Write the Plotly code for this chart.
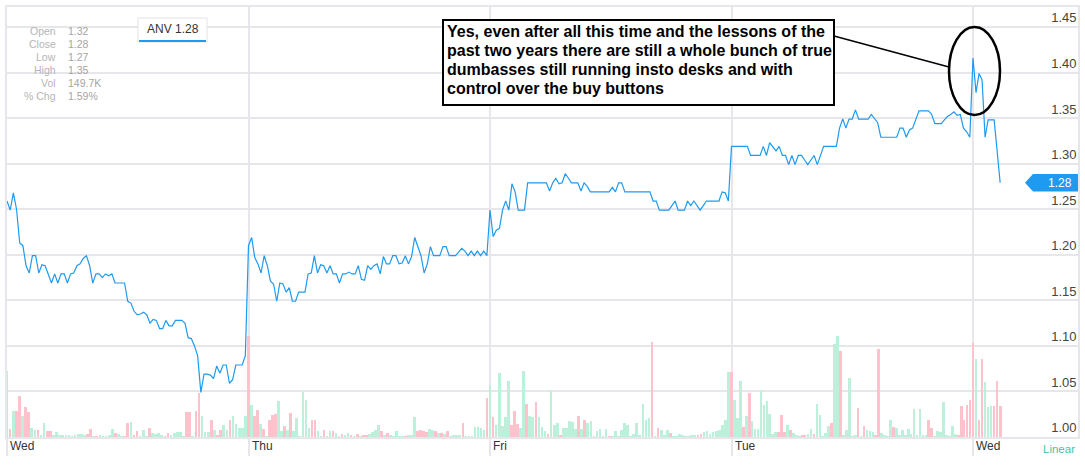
import plotly.graph_objects as go

# ---------------- data ----------------
day_labels = ["Wed", "Thu", "Fri", "Tue", "Wed"]
symbol = "ANV"

price_wed1 = [1.259, 1.249, 1.268, 1.250, 1.213, 1.210, 1.188, 1.180, 1.199, 1.199,
              1.180, 1.189, 1.188, 1.179, 1.169, 1.179, 1.169, 1.179, 1.179, 1.169,
              1.179, 1.180, 1.188, 1.190, 1.196, 1.199, 1.188, 1.169, 1.179, 1.179,
              1.175, 1.179, 1.177, 1.179, 1.169, 1.169, 1.169, 1.169, 1.149, 1.147,
              1.138, 1.134, 1.135, 1.137, 1.134, 1.125, 1.129, 1.128, 1.119, 1.119,
              1.128, 1.122, 1.122, 1.128, 1.128, 1.128, 1.125, 1.109, 1.108, 1.100,
              1.089, 1.049, 1.069, 1.069, 1.068, 1.064, 1.078, 1.070, 1.079, 1.079,
              1.059, 1.063, 1.079, 1.079, 1.079, 1.089]
price_thu = [1.210, 1.219, 1.197, 1.190, 1.180, 1.199, 1.188, 1.171, 1.168, 1.149,
             1.169, 1.168, 1.159, 1.164, 1.149, 1.149, 1.159, 1.159, 1.159, 1.179,
             1.180, 1.199, 1.180, 1.189, 1.188, 1.180, 1.188, 1.179, 1.179, 1.169,
             1.179, 1.179, 1.181, 1.179, 1.179, 1.188, 1.173, 1.172, 1.188, 1.184,
             1.188, 1.190, 1.179, 1.198, 1.190, 1.190, 1.199, 1.199, 1.190, 1.191,
             1.199, 1.190, 1.198, 1.219, 1.210, 1.199, 1.180, 1.190, 1.209, 1.199,
             1.199, 1.199, 1.209, 1.209, 1.199, 1.199, 1.199, 1.203, 1.207, 1.204,
             1.199, 1.204, 1.199, 1.204, 1.199, 1.204, 1.199]
price_fri = [1.249, 1.220, 1.227, 1.229, 1.249, 1.259, 1.249, 1.278, 1.269, 1.249,
             1.249, 1.249, 1.279, 1.279, 1.279, 1.279, 1.279, 1.279, 1.279, 1.270,
             1.279, 1.284, 1.278, 1.279, 1.289, 1.284, 1.279, 1.279, 1.279, 1.270,
             1.279, 1.275, 1.269, 1.269, 1.269, 1.269, 1.269, 1.269, 1.269, 1.274,
             1.269, 1.279, 1.279, 1.269, 1.269, 1.269, 1.269, 1.269, 1.269, 1.269,
             1.269, 1.269, 1.259, 1.259, 1.249, 1.249, 1.249, 1.249, 1.254, 1.259,
             1.249, 1.249, 1.249, 1.259, 1.254, 1.259, 1.254, 1.249, 1.254, 1.259,
             1.259, 1.259, 1.259, 1.259, 1.269, 1.268, 1.259]
price_tue = [1.319, 1.319, 1.319, 1.319, 1.319, 1.319, 1.309, 1.309, 1.309, 1.309,
             1.319, 1.309, 1.323, 1.319, 1.314, 1.319, 1.309, 1.309, 1.299, 1.309,
             1.299, 1.309, 1.309, 1.304, 1.299, 1.304, 1.309, 1.299, 1.309, 1.319,
             1.319, 1.319, 1.319, 1.319, 1.339, 1.349, 1.339, 1.349, 1.349, 1.359,
             1.349, 1.349, 1.349, 1.349, 1.354, 1.349, 1.345, 1.329, 1.329, 1.329,
             1.329, 1.329, 1.329, 1.339, 1.339, 1.329, 1.337, 1.339, 1.348, 1.358,
             1.358, 1.358, 1.358, 1.354, 1.344, 1.344, 1.344, 1.348, 1.352, 1.354,
             1.357, 1.353, 1.354, 1.339, 1.335, 1.329]
price_wed2 = [1.416, 1.378, 1.399, 1.392, 1.329, 1.348, 1.348, 1.348, 1.279]
wed2_line_slots = [0, 1, 2, 3, 4, 5, 6, 7, 9]
slots_per_day = 80

vol_wed1 = [65.7, 8.3, 25.7, 26.3, 40.7, 21.3, 29.7, 24.7, 9, 7.3, 6.7, 1.3, 13.7, 5.7, 6,
            1.3, 5, 2, 1.7, 1.3, 1.3, 0.7, 2.3, 3.3, 3, 1.3, 3.3, 7.7, 0.7, 0.7, 1.3, 0.7,
            0.7, 1.3, 7.7, 4, 3.3, 0.7, 0.7, 14, 15, 1.7, 5.7, 0.7, 6.7, 0.7, 9.3, 4.3, 3,
            4, 1.3, 0.7, 3.7, 1.3, 4, 5.3, 5.3, 0.7, 25, 24.7, 0.7, 26.3, 44, 20.7, 4.7,
            5.3, 17.3, 6.7, 1.3, 6.7, 12.3, 7.3, 16.7, 20.7, 13.3, 9, 9, 21.3]
dir_wed1 = "gpgppgppgg" "pggppggggg" "ggggggppgp" "gggggpggpp" "gppgggpggg" "gppgggggpp" "gppgggpgpp" "ggpggggg"
vol_thu = [101.3, 32.3, 21.3, 27.3, 13, 8.3, 0.7, 17.3, 22.3, 22.7, 35.7, 5.7, 10.7, 7.3, 24,
           5.7, 19, 0.7, 45.3, 37.3, 9, 17.3, 17.3, 5.7, 0.7, 7.3, 0.7, 5.7, 5.7, 4, 0.7, 3.3,
           1.3, 4, 1.3, 0.7, 2.7, 0.7, 1.3, 1.3, 3.3, 4.7, 7.3, 12, 6.3, 2, 4, 2, 0.7, 6.3,
           0.7, 0.7, 0.7, 1.3, 1.3, 20, 5.7, 6.7, 6, 4.7, 8, 6.7, 6, 4, 4, 2.7, 6, 0.7, 1.3,
           1.3, 1.3, 14, 0.7, 0.7, 0.7, 9.7, 10, 8.7, 7.3, 39]
dir_thu = "pgppgpgppp" "ggpgpggggg" "gppggpggpg" "gpggpgpgpp" "ggggpgpggg" "ggpgggpppp" "ggpgpgpggg" "gpgggggggp"
vol_fri = [51, 20, 12, 64, 11.3, 20, 55.7, 12.3, 26.3, 13.3, 8.7, 66.3, 33.3, 21.3, 20, 35, 20,
           9.7, 5.7, 3.3, 45.7, 12.3, 14, 2, 9.3, 9.3, 15.7, 14.7, 8.3, 21.3, 8, 17.3, 14, 16,
           0.5, 5.7, 8.3, 0.5, 8.3, 0.5, 0.5, 6.3, 0.5, 6.7, 13.7, 12.3, 0.5, 3, 13.7, 1.3,
           33.3, 17.3, 18.7, 94.7, 0.5, 8.7, 7.3, 2.3, 7.3, 4, 0.5, 0.7, 3.3, 1.3, 0.7, 0.7,
           2, 1.3, 2, 3.3, 5, 6, 3.3, 4.7, 5.7, 7.3, 12.3, 16.7, 65.3]
dir_fri = "gpgggggppp" "ggpggpgggp" "gggpgggggp" "gpgggggggp" "gggggggggg" "gggpgpgggp" "ggggggggpp" "ggggggggg"
vol_tue = [64.7, 36.7, 19.3, 55.7, 9.7, 21, 44, 15.7, 8.3, 8.3, 45.7, 32.3, 36.3, 23, 3.3, 4.7,
           5.3, 22, 4.7, 12.3, 6.7, 4, 2, 0.7, 1.3, 2.3, 3.3, 8, 3.3, 33.3, 21.7, 0.7, 4, 11.3,
           14, 93.3, 100.7, 85.7, 2, 6.7, 58.7, 0.5, 1.3, 29, 0.7, 11.3, 6.7, 5.7, 5.3, 2.3,
           88.3, 4, 1.3, 0.7, 16.7, 9.7, 9.3, 2.3, 7.3, 2.3, 8, 3.3, 28, 1.3, 28, 1.3, 1.3,
           17.3, 9.3, 0.5, 5.7, 5.3, 34.7, 1.3, 0.7, 11.3, 3.3, 2.3, 31.3, 17.3, 32.3, 36.7]
dir_tue = "pgggpgpggg" "ggggggpppg" "pgggppggpg" "ggggpggpgg" "gggpgpgggp" "pggggpgggg" "gggggggppg" "gggggggppp" "pp"
vol_wed2 = [94, 78, 17.3, 78.3, 54.7, 29.7, 31.3, 31.3, 55.7, 31.3]
dir_wed2 = "pgppgggppp"

price_ticks = [1.00, 1.05, 1.10, 1.15, 1.20, 1.25, 1.30, 1.35, 1.40, 1.45]
info_labels = ["Open", "Close", "Low", "High", "Vol", "% Chg"]
info_values = ["1.32", "1.28", "1.27", "1.35", "149.7K", "1.59%"]
note_lines = [
    "Yes, even after all this time and the lessons of the",
    "past two years there are still a whole bunch of true",
    "dumbasses still running insto desks and with",
    "control over the buy buttons",
]

# ---------------- geometry helpers (pixel layout of the page) ----------------
W, H = 1085, 470
ML, MR, MT, MB = 7, 7, 7, 33
PW, PH = W - ML - MR, H - MT - MB


def px(xp):
    return (xp - ML) / PW


def py(yp):
    return (H - MB - yp) / PH


LINE_BLUE = "#1e9bf0"
GRID = "#e6e6eb"
UP = "#bdf0da"
DOWN = "#fec2cc"

# ---------------- build traces ----------------
full_days = [price_wed1, price_thu, price_fri, price_tue]
lx, ly = [], []
for d, vals in enumerate(full_days):
    n = len(vals)
    lx += [d + i / n for i in range(n)]
    ly += vals
lx += [4 + s / slots_per_day for s in wed2_line_slots]
ly += price_wed2

vol_days = [(vol_wed1, dir_wed1), (vol_thu, dir_thu), (vol_fri, dir_fri), (vol_tue, dir_tue)]
bx, bv, bc = [], [], []
for d, (vals, dirs) in enumerate(vol_days):
    n = len(vals)
    bx += [d + i / n for i in range(n)]
    bv += vals
    bc += [UP if c == "g" else DOWN for c in dirs]
bx += [4 + i / slots_per_day for i in range(len(vol_wed2))]
bv += vol_wed2
bc += [UP if c == "g" else DOWN for c in dir_wed2]

fig = go.Figure()
fig.add_trace(go.Bar(x=bx, y=bv, width=0.88 / slots_per_day, marker=dict(color=bc, line=dict(width=0)),
                     yaxis="y", xaxis="x", showlegend=False, hoverinfo="skip"))
fig.add_trace(go.Scatter(x=lx, y=ly, mode="lines", line=dict(color=LINE_BLUE, width=1.2),
                         yaxis="y2", xaxis="x", showlegend=False, name=symbol))

last = ly[-1]
x_max = (W - MR - ML) / 241.5

fig.update_layout(
    width=W, height=H,
    margin=dict(l=ML, r=MR, t=MT, b=MB, autoexpand=False),
    paper_bgcolor="white", plot_bgcolor="white",
    font=dict(family="Liberation Sans, Arial, sans-serif", color="#444"),
    bargap=0,
    xaxis=dict(range=[0, x_max], tickvals=list(range(len(day_labels))), showticklabels=False,
               ticks="outside", ticklen=17, tickwidth=2, tickcolor=GRID,
               showgrid=True, gridcolor=GRID, gridwidth=2, zeroline=False,
               showline=True, linecolor=GRID, linewidth=2, mirror=True, fixedrange=True),
    yaxis=dict(range=[0, PH], visible=False, fixedrange=True),
    yaxis2=dict(range=[1.0, 1.0 + PH / 911.1], overlaying="y", side="right",
                tickvals=price_ticks, ticktext=[f"{v:.2f}" for v in price_ticks],
                ticklabelposition="inside top", ticks="", tickfont=dict(size=13, color="#444"),
                showgrid=True, gridcolor=GRID, gridwidth=2, zeroline=False,
                showline=True, linecolor=GRID, linewidth=2, mirror=True, fixedrange=True),
)

shapes = []
annotations = []

# day labels under the axis
for d, lab in enumerate(day_labels):
    annotations.append(dict(x=d, xref="x", y=py(446), yref="paper", text=lab, showarrow=False,
                            xanchor="left", yanchor="middle", xshift=1,
                            font=dict(size=12, color="#333")))
annotations.append(dict(x=px(1077), xref="paper", y=py(449), yref="paper", text="Linear",
                        showarrow=False, xanchor="right", yanchor="middle",
                        font=dict(size=11.5, color="#3ec6a8")))

# info panel
for i, (lab, val) in enumerate(zip(info_labels, info_values)):
    yy = py(31 + 13 * i)
    annotations.append(dict(x=px(58), xref="paper", y=yy, yref="paper", text=lab, showarrow=False,
                            xanchor="right", yanchor="middle", font=dict(size=10.5, color="#b5b5b5")))
    annotations.append(dict(x=px(66), xref="paper", y=yy, yref="paper", text=val, showarrow=False,
                            xanchor="left", yanchor="middle", font=dict(size=10.5, color="#a5a5a5")))

# legend chip
shapes.append(dict(type="rect", xref="paper", yref="paper", x0=px(138), x1=px(207), y0=py(42), y1=py(18),
                   line=dict(color="#e3e3e3", width=1), fillcolor="white", layer="above"))
shapes.append(dict(type="rect", xref="paper", yref="paper", x0=px(139), x1=px(206), y0=py(42), y1=py(40),
                   line=dict(width=0), fillcolor=LINE_BLUE, layer="above"))
annotations.append(dict(x=px(172.5), xref="paper", y=py(28.5), yref="paper", text=f"{symbol} {last:.2f}",
                        showarrow=False, xanchor="center", yanchor="middle",
                        font=dict(size=12, color="#333")))

# last price tag
h = 8.7 / 911.1
shapes.append(dict(type="path", xref="paper", yref="y2",
                   path=(f"M {px(1025)} {last} L {px(1033)} {last + h} L 1 {last + h} "
                         f"L 1 {last - h} L {px(1033)} {last - h} Z"),
                   fillcolor=LINE_BLUE, line=dict(width=0), layer="above"))
annotations.append(dict(x=px(1074), xref="paper", y=last, yref="y2", text=f"{last:.2f}", showarrow=False,
                        xanchor="right", yanchor="middle", font=dict(size=12, color="white")))

# hand-drawn note
shapes.append(dict(type="rect", xref="paper", yref="paper", x0=px(443), x1=px(834), y0=py(105), y1=py(20),
                   line=dict(color="black", width=2), fillcolor="white", layer="above"))
for i, t in enumerate(note_lines):
    annotations.append(dict(x=px(445), xref="paper", y=py(31.5 + 19 * i), yref="paper", text=t,
                            showarrow=False, xanchor="left", yanchor="middle",
                            font=dict(size=16, color="black", weight="bold",
                                      family="Liberation Sans, Arial, sans-serif")))
shapes.append(dict(type="line", xref="paper", yref="paper", x0=px(834), y0=py(36), x1=px(949), y1=py(67),
                   line=dict(color="black", width=1.5), layer="above"))
shapes.append(dict(type="circle", xref="paper", yref="paper", x0=px(949), x1=px(1000), y0=py(115), y1=py(27),
                   line=dict(color="black", width=2.5), layer="above"))

fig.update_layout(shapes=shapes, annotations=annotations)
fig.write_html("out.html", config={"displayModeBar": False},
               post_script="document.body.style.margin='0';document.body.style.overflow='hidden';")
